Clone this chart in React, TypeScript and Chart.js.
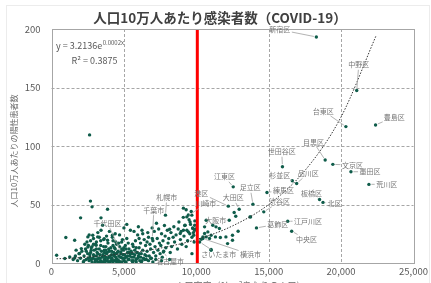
import React, { useEffect, useRef } from 'react';
import { Chart, registerables } from 'chart.js';

Chart.register(...registerables);

const TITLE = '人口10万人あたり感染者数（COVID-19）';
const Y_TITLE = '人口10万人あたりの陽性患者数';
const X_TITLE = '人口密度（1km²あたりの人口）';
const EQ_MAIN = 'y = 3.2136e';
const EQ_EXP = '0.0002x';
const EQ_R2 = 'R² = 0.3875';

const X_MIN = 0;
const X_MAX = 25000;
const X_STEP = 5000;
const Y_MIN = 0;
const Y_MAX = 200;
const Y_STEP = 50;

const THRESHOLD_X = 10070;

// labelled municipalities
const namedNames = ['新宿区', '中野区', '台東区', '豊島区', '目黒区', '文京区', '墨田区', '荒川区', '世田谷区', '杉並区', '品川区', '練馬区', '板橋区', '北区', '江東区', '足立区', '大田区', '渋谷区', '葛飾区', '江戸川区', '中央区', '港区', '川崎市', '大阪市', 'さいたま市', '横浜市', '札幌市', '千葉市', '千代田区', '名古屋市'];
const namedX = [18290, 21080, 20330, 22380, 18900, 19430, 20680, 21920, 15950, 16630, 16930, 14880, 18510, 18750, 12550, 13910, 12960, 14660, 14156, 16315, 16587, 12210, 9345, 12275, 10230, 10457, 7870, 6960, 4780, 7730];
const namedY = [193.2, 147.4, 116.6, 118, 88, 84.3, 78, 67.2, 82.3, 70.3, 68, 60.3, 54.3, 51.8, 65.1, 50.3, 46, 43.7, 30, 35.7, 27.2, 48.6, 39.4, 36.6, 18, 20.9, 40.9, 20.9, 9.4, 9.4];
// label centres (data units)
const labelX = [15770, 21220, 18770, 23670, 18090, 20780, 22000, 23150, 15900, 15770, 17730, 16020, 17950, 19550, 11950, 13720, 12550, 15750, 15630, 17720, 17610, 10350, 10650, 11350, 11550, 13750, 7960, 7070, 3870, 8190];
const labelY = [199.4, 169.4, 130, 124.9, 103.4, 83.7, 78, 67.4, 95.1, 74.6, 76.6, 62.3, 59.5, 50.9, 73.7, 64.3, 55.7, 52.3, 33.2, 35.7, 20.1, 59.5, 50.9, 36.6, 7.2, 7.2, 56, 45.2, 34.3, 1.5];

// other (unlabelled) municipalities
const otherPts: [number, number][] = [
  [2630, 109.5], [2690, 52.9], [2800, 48], [3870, 46], [2010, 38.6], [3420, 38.6], [990, 21.8], [1600, 19.5], [354, 6.6],
  [3530, 32.3], [3420, 28], [2850, 23.7], [2510, 22.3], [3190, 22.3], [3640, 20.7], [4210, 23.7], [4440, 18], [3870, 19.5],
  [2060, 12.3], [1940, 8.1], [2510, 13.7], [2400, 10], [2740, 10.9], [3080, 15.2], [1260, 5.1], [920, 3.8], [1600, 4.3],
  [1500, 3], [1650, 6], [1800, 2], [1900, 8], [2000, 4], [2100, 10], [2200, 1], [2250, 6], [2350, 12], [2400, 3], [2500, 8], [2550, 15], [2450, 18], [2300, 16], [1700, 11],
  [2600, 2], [2650, 5], [2700, 9], [2750, 13], [2800, 1], [2850, 4], [2900, 7], [2950, 11], [3000, 3], [3050, 16], [3100, 6], [3150, 9], [3200, 1], [3250, 4], [3300, 12], [3350, 7], [3400, 2], [3450, 10], [3500, 5], [2700, 19], [2900, 21], [3100, 18], [3300, 22], [3400, 15], [2600, 24], [3200, 26], [3000, 0.5], [3350, 0.8], [2800, 14], [3150, 3],
  [3550, 1], [3600, 6], [3650, 11], [3700, 3], [3750, 14], [3800, 8], [3850, 2], [3900, 17], [3950, 5], [4000, 10], [4050, 1], [4100, 13], [4150, 7], [4200, 3], [4250, 19], [4300, 9], [4350, 2], [4400, 12], [4450, 5], [4500, 16], [3600, 20], [3800, 23], [4000, 27], [4200, 22], [4400, 25], [3700, 0.5], [3900, 4], [4100, 2], [4300, 6], [4500, 1], [3650, 9], [3950, 12], [4250, 15], [4450, 8],
  [4550, 3], [4600, 10], [4650, 6], [4700, 14], [4750, 1], [4800, 8], [4850, 18], [4900, 4], [4950, 11], [5000, 2], [5050, 7], [5100, 15], [5150, 5], [5200, 21], [5250, 9], [5300, 3], [5350, 12], [5400, 6], [5450, 28], [5500, 10], [4700, 24], [5000, 30], [5200, 33], [4900, 20], [4600, 1], [5100, 0.8], [5300, 17], [4800, 5], [5000, 13],
  [5550, 2], [5600, 8], [5650, 14], [5700, 5], [5750, 11], [5800, 19], [5850, 3], [5900, 9], [5950, 24], [6000, 6], [6050, 13], [6100, 2], [6150, 17], [6200, 8], [6250, 28], [6300, 11], [6350, 4], [6400, 20], [6450, 7], [6500, 15], [5700, 27], [6000, 31], [6300, 25], [5600, 1], [6200, 0.8],
  [6550, 3], [6600, 10], [6700, 22], [6750, 6], [6800, 16], [6850, 12], [6900, 4], [7000, 19], [7050, 9], [7100, 27], [7150, 14], [7200, 6], [7300, 21], [7350, 11], [7400, 29], [7450, 17], [6650, 26], [6950, 30], [7250, 34], [7500, 8],
  [7550, 15], [7600, 25], [7700, 19], [7750, 10], [7800, 32], [7850, 23], [7900, 13], [8000, 28], [8050, 17], [8100, 21], [8200, 9], [8250, 26], [8300, 14], [8400, 22], [8450, 31], [8500, 18], [7650, 5], [8150, 3],
  [8600, 24], [8700, 12], [8750, 29], [8800, 35], [8900, 20], [8950, 27], [9000, 16], [9100, 39], [9150, 23], [9200, 32], [9300, 45.5], [9350, 28], [9400, 19], [9450, 41], [9500, 37], [9550, 25], [9600, 33], [9650, 44], [9700, 22], [9750, 30], [9800, 26], [9850, 18], [9900, 36], [9950, 29], [9300, 14], [9700, 8],
  [9110, 46.9], [9690, 40.9], [9570, 35.1], [9230, 32.3], [9755, 29.5], [9110, 28], [9455, 26.6], [8890, 25.2], [8160, 28.9],
  [2250, 2], [2550, 4], [2650, 7], [2750, 3], [2950, 6], [3050, 2], [3200, 8], [3350, 4], [3450, 1], [3550, 7], [3650, 3], [3750, 5], [3850, 9], [3950, 1], [4050, 6], [4150, 4], [4250, 1], [4350, 7], [4450, 3], [4550, 9], [4650, 2], [4750, 5], [4850, 1], [4950, 7], [5050, 4], [5150, 1], [5250, 6], [5350, 3], [5450, 8], [5550, 5], [5650, 2], [5750, 7], [5850, 1], [5950, 4], [6050, 8], [6150, 5], [6250, 2], [6450, 3], [6550, 6], [6700, 2], [6850, 4], [7000, 1], [7200, 3], [7600, 2],
  [3100, 12], [3600, 14], [4150, 10], [4650, 17], [5150, 12], [5600, 16], [6050, 21], [6600, 18], [2900, 16], [3400, 19], [3750, 11], [4350, 13], [4850, 12], [5350, 9], [5850, 13],
  [12616, 43.2], [13747, 39.4], [10681, 36.6], [10572, 30.9], [11138, 32.3], [11362, 30.9], [11594, 29.5], [10797, 26.6], [10572, 25.2], [10457, 22.3], [10681, 22.3], [11022, 23.7], [10913, 20.9], [11321, 22.3], [10341, 20.3], [12044, 22.3], [12500, 19.5], [12500, 23.7], [12160, 16.6], [11022, 10.9], [9823, 23.7], [9891, 28], [9891, 32.3],
  [12725, 40], [11662, 21.8], [12888, 27.2], [11022, 11.5], [13706, 39.4],
];

// exponential trend line
const trendX = [350, 1000, 2500, 5000, 7500, 10000, 12500, 15000, 17500, 20000, 22400];
const trendY = [3.6, 3.9, 5.1, 8.0, 12.7, 20.0, 31.7, 50.0, 79.0, 124.9, 193.8];

const FONT = '"Noto Sans CJK JP", "Noto Sans", sans-serif';
const POINT_COLOR = '#0f5c4a';

const overlay = {
  id: 'overlay',
  beforeDatasetsDraw(chart: any) {
    const ctx = chart.ctx;
    const { left, right, top, bottom } = chart.chartArea;
    const xs = chart.scales.x;
    const ys = chart.scales.y;
    ctx.save();
    ctx.strokeStyle = '#a6a6a6';
    ctx.lineWidth = 1;
    ctx.setLineDash([3, 2]);
    for (let v = X_MIN + X_STEP; v < X_MAX; v += X_STEP) {
      const px = Math.round(xs.getPixelForValue(v)) + 0.5;
      ctx.beginPath();
      ctx.moveTo(px, top);
      ctx.lineTo(px, bottom);
      ctx.stroke();
    }
    for (let v = Y_MIN + Y_STEP; v < Y_MAX; v += Y_STEP) {
      const py = Math.round(ys.getPixelForValue(v)) + 0.5;
      ctx.beginPath();
      ctx.moveTo(left, py);
      ctx.lineTo(right, py);
      ctx.stroke();
    }
    ctx.restore();
  },
  afterDatasetsDraw(chart: any) {
    const ctx = chart.ctx;
    const { left, right, top, bottom } = chart.chartArea;
    const xs = chart.scales.x;
    const ys = chart.scales.y;
    ctx.save();
    // plot border
    ctx.strokeStyle = '#a6a6a6';
    ctx.lineWidth = 1;
    ctx.setLineDash([]);
    ctx.strokeRect(Math.round(left) + 0.5, Math.round(top) + 0.5, Math.round(right - left), Math.round(bottom - top));

    // callout labels with leader lines
    ctx.font = `7px ${FONT}`;
    ctx.textAlign = 'center';
    ctx.textBaseline = 'middle';
    for (let i = 0; i < namedNames.length; i++) {
      const px = xs.getPixelForValue(namedX[i]);
      const py = ys.getPixelForValue(namedY[i]);
      const cx = xs.getPixelForValue(labelX[i]);
      const cy = ys.getPixelForValue(labelY[i]);
      const w = ctx.measureText(namedNames[i]).width;
      const hw = w / 2 + 1.5;
      const hh = 5;
      const dx = px - cx;
      const dy = py - cy;
      const dist = Math.hypot(dx, dy);
      if (dist > 8) {
        const t = Math.min(dx !== 0 ? hw / Math.abs(dx) : Infinity, dy !== 0 ? hh / Math.abs(dy) : Infinity);
        if (t < 1) {
          const sx = cx + dx * t;
          const sy = cy + dy * t;
          const ex = px - (dx / dist) * 2.5;
          const ey = py - (dy / dist) * 2.5;
          ctx.strokeStyle = '#a0a0a0';
          ctx.lineWidth = 0.8;
          ctx.beginPath();
          ctx.moveTo(sx, sy);
          ctx.lineTo(ex, ey);
          ctx.stroke();
        }
      }
      ctx.fillStyle = '#767676';
      ctx.fillText(namedNames[i], cx, cy);
    }

    // trend equation
    ctx.textAlign = 'left';
    ctx.textBaseline = 'alphabetic';
    ctx.fillStyle = '#595959';
    ctx.font = `9px ${FONT}`;
    const ex0 = left + 4.5;
    const ey0 = top + 20;
    ctx.fillText(EQ_MAIN, ex0, ey0);
    const mw = ctx.measureText(EQ_MAIN).width;
    ctx.font = `6px ${FONT}`;
    ctx.fillText(EQ_EXP, ex0 + mw + 0.5, ey0 - 4);
    ctx.font = `9px ${FONT}`;
    ctx.fillText(EQ_R2, ex0 + 15.5, ey0 + 15);
    ctx.restore();
  },
  afterDraw(chart: any) {
    const ctx = chart.ctx;
    const { left, right, top, bottom } = chart.chartArea;
    ctx.save();
    // outer frame
    ctx.strokeStyle = '#ececec';
    ctx.lineWidth = 1;
    ctx.strokeRect(6.5, 5.5, 423, 300);
    // title
    ctx.fillStyle = '#404040';
    ctx.font = `bold 13.5px ${FONT}`;
    ctx.textAlign = 'center';
    ctx.textBaseline = 'middle';
    ctx.fillText(TITLE, 220, 18);
    // y title
    ctx.font = `8px ${FONT}`;
    ctx.fillStyle = '#6a6a6a';
    ctx.translate(14, (top + bottom) / 2 + 5);
    ctx.rotate(-Math.PI / 2);
    ctx.fillText(Y_TITLE, 0, 0);
    ctx.setTransform(1, 0, 0, 1, 0, 0);
    // x title (cut off by the window)
    ctx.font = `9px ${FONT}`;
    ctx.textBaseline = 'top';
    ctx.fillText(X_TITLE, (left + right) / 2 + 8, bottom + 18);
    ctx.restore();
  },
};

export default function App() {
  const ref = useRef<HTMLCanvasElement | null>(null);
  useEffect(() => {
    if (!ref.current) return;
    const points = [
      ...namedX.map((x, i) => ({ x, y: namedY[i] })),
      ...otherPts.map(([x, y]) => ({ x, y })),
    ];
    const trend = trendX.map((x, i) => ({ x, y: trendY[i] }));
    const chart = new Chart(ref.current, {
      type: 'scatter',
      data: {
        datasets: [
          {
            type: 'line',
            label: 'threshold',
            data: [{ x: THRESHOLD_X, y: Y_MIN }, { x: THRESHOLD_X, y: Y_MAX }],
            borderColor: '#ff0000',
            borderWidth: 3,
            pointRadius: 0,
            fill: false,
          } as any,
          {
            type: 'line',
            label: 'trend',
            data: trend,
            borderColor: '#333333',
            borderWidth: 1,
            borderDash: [1.5, 1.5],
            pointRadius: 0,
            cubicInterpolationMode: 'monotone',
            fill: false,
          } as any,
          {
            label: 'municipalities',
            data: points,
            backgroundColor: POINT_COLOR,
            borderWidth: 0,
            pointRadius: 1.7,
          },
        ],
      },
      options: {
        animation: false,
        responsive: false,
        devicePixelRatio: 1,
        layout: { padding: { top: 29, right: 13, left: 0, bottom: 0 } },
        plugins: {
          legend: { display: false },
          tooltip: { enabled: false },
          title: { display: false },
        },
        scales: {
          x: {
            type: 'linear',
            min: X_MIN,
            max: X_MAX,
            grid: { display: false, drawTicks: false },
            border: { display: false },
            ticks: {
              stepSize: X_STEP,
              color: '#595959',
              font: { size: 9.5, family: FONT },
              padding: 3,
              maxRotation: 0,
              callback: (v: any) => Number(v).toLocaleString('en-US'),
            },
            afterFit: (s: any) => { s.height = 37; },
          },
          y: {
            type: 'linear',
            min: Y_MIN,
            max: Y_MAX,
            grid: { display: false, drawTicks: false },
            border: { display: false },
            ticks: {
              stepSize: Y_STEP,
              color: '#595959',
              font: { size: 9.5, family: FONT },
              padding: 11,
            },
            afterFit: (s: any) => { s.width = 51.5; },
          },
        },
      },
      plugins: [overlay],
    });
    return () => chart.destroy();
  }, []);
  return (
    <div style={{ position: 'fixed', left: 0, top: 0, width: 431, height: 300, background: '#ffffff' }}>
      <canvas ref={ref} width={431} height={300} style={{ width: 431, height: 300, display: 'block' }} />
    </div>
  );
}
